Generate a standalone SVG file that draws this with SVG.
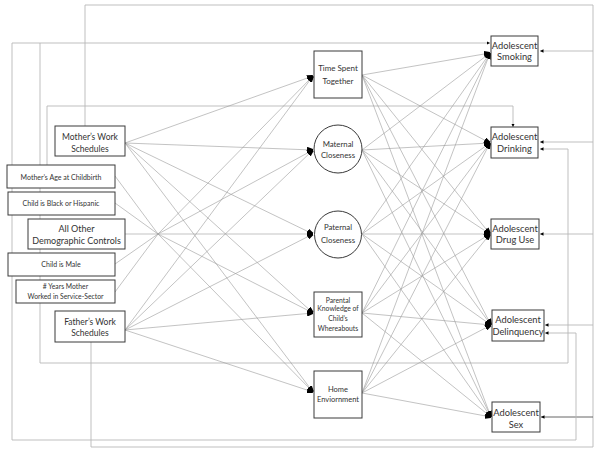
<svg xmlns="http://www.w3.org/2000/svg" width="600" height="454" viewBox="0 0 600 454">
<style>
.bg{fill:#fff}
.box{fill:#fff;stroke:#3a3a3a;stroke-width:1}
.loop{fill:none;stroke:#b8b8b8;stroke-width:0.9}
.c{fill:none;stroke:#9a9a9a;stroke-width:0.6}
.t{font-family:Lato,"Open Sans","Liberation Sans",sans-serif;fill:#333;text-anchor:middle}
</style>
<defs>
<marker id="big" viewBox="0 0 6 6" refX="6" refY="3" markerWidth="6" markerHeight="6" markerUnits="userSpaceOnUse" orient="auto">
<path d="M0,0 L6,2 L6,4 L0,6 z" fill="#000"/>
</marker>
<marker id="sm" viewBox="0 0 4 4" refX="4" refY="2" markerWidth="3.5" markerHeight="3.5" markerUnits="userSpaceOnUse" orient="auto-start-reverse">
<path d="M0,0 L4,2 L0,4 z" fill="#000"/>
</marker>
</defs>
<rect class="bg" x="0" y="0" width="600" height="454"/>
<g id="connectors">
<path class="loop" d="M85,126 V5 H593 V447 H91 V342"/>
<path class="loop" d="M593,51 H540" marker-end="url(#sm)"/>
<path class="loop" d="M593,142 H540" marker-end="url(#sm)"/>
<path class="loop" d="M593,234 H540" marker-end="url(#sm)"/>
<path class="loop" d="M593,325 H545" marker-end="url(#sm)"/>
<path d="M593,417 H541" fill="none" stroke="#555" stroke-width="0.9" marker-end="url(#sm)"/>
<path class="loop" d="M490,43 H12 V440 H576 V333 H545" marker-start="url(#sm)" marker-end="url(#sm)"/>
<path class="loop" d="M40,43 V363 H568 V149 H540" marker-end="url(#sm)"/>
<path class="loop" d="M47,165 V106 H513 V127" marker-end="url(#sm)"/>
<path class="c" d="M125,234 L158,234"/>
<path class="c" d="M115,176 L158,234"/>
<path class="c" d="M115,203 L158,234"/>
<path class="c" d="M115,264 L158,234"/>
<path class="c" d="M115,292 L158,234"/>
<path class="c" d="M125,143 L313,76" marker-end="url(#big)"/>
<path class="c" d="M125,143 L313,150" marker-end="url(#big)"/>
<path class="c" d="M125,143 L313,234" marker-end="url(#big)"/>
<path class="c" d="M125,143 L313,313" marker-end="url(#big)"/>
<path class="c" d="M125,143 L313,392" marker-end="url(#big)"/>
<path class="c" d="M158,234 L313,76" marker-end="url(#big)"/>
<path class="c" d="M158,234 L313,150" marker-end="url(#big)"/>
<path class="c" d="M158,234 L313,234" marker-end="url(#big)"/>
<path class="c" d="M158,234 L313,313" marker-end="url(#big)"/>
<path class="c" d="M158,234 L313,392" marker-end="url(#big)"/>
<path class="c" d="M125,330 L313,76" marker-end="url(#big)"/>
<path class="c" d="M125,330 L313,150" marker-end="url(#big)"/>
<path class="c" d="M125,330 L313,234" marker-end="url(#big)"/>
<path class="c" d="M125,330 L313,313" marker-end="url(#big)"/>
<path class="c" d="M125,330 L313,392" marker-end="url(#big)"/>
<path class="c" d="M362,75 L490,53" marker-end="url(#big)"/>
<path class="c" d="M362,75 L490,143" marker-end="url(#big)"/>
<path class="c" d="M362,75 L490,234" marker-end="url(#big)"/>
<path class="c" d="M362,75 L491,325" marker-end="url(#big)"/>
<path class="c" d="M362,75 L491,417" marker-end="url(#big)"/>
<path class="c" d="M362,150 L490,53" marker-end="url(#big)"/>
<path class="c" d="M362,150 L490,143" marker-end="url(#big)"/>
<path class="c" d="M362,150 L490,234" marker-end="url(#big)"/>
<path class="c" d="M362,150 L491,325" marker-end="url(#big)"/>
<path class="c" d="M362,150 L491,417" marker-end="url(#big)"/>
<path class="c" d="M362,234 L490,53" marker-end="url(#big)"/>
<path class="c" d="M362,234 L490,143" marker-end="url(#big)"/>
<path class="c" d="M362,234 L490,234" marker-end="url(#big)"/>
<path class="c" d="M362,234 L491,325" marker-end="url(#big)"/>
<path class="c" d="M362,234 L491,417" marker-end="url(#big)"/>
<path class="c" d="M362,313 L490,53" marker-end="url(#big)"/>
<path class="c" d="M362,313 L490,143" marker-end="url(#big)"/>
<path class="c" d="M362,313 L490,234" marker-end="url(#big)"/>
<path class="c" d="M362,313 L491,325" marker-end="url(#big)"/>
<path class="c" d="M362,313 L491,417" marker-end="url(#big)"/>
<path class="c" d="M362,393 L490,53" marker-end="url(#big)"/>
<path class="c" d="M362,393 L490,143" marker-end="url(#big)"/>
<path class="c" d="M362,393 L490,234" marker-end="url(#big)"/>
<path class="c" d="M362,393 L491,325" marker-end="url(#big)"/>
<path class="c" d="M362,393 L491,417" marker-end="url(#big)"/>
</g>
<g id="mother-work">
<rect class="box" x="55" y="126" width="70" height="30"/>
<text class="t" font-size="8.5"><tspan x="90" y="140">Mother’s Work</tspan><tspan x="90" y="152">Schedules</tspan></text>
</g>
<g id="mother-age">
<rect class="box" x="7" y="165" width="108" height="23"/>
<text class="t" font-size="7" x="61" y="179.5">Mother’s Age at Childbirth</text>
</g>
<g id="child-black">
<rect class="box" x="8" y="192" width="107" height="23"/>
<text class="t" font-size="7" x="61" y="206">Child is Black or Hispanic</text>
</g>
<g id="other-controls">
<rect class="box" x="28" y="219" width="97" height="30"/>
<text class="t" font-size="9"><tspan x="76.5" y="232">All Other</tspan><tspan x="76.5" y="243.5">Demographic Controls</tspan></text>
</g>
<g id="child-male">
<rect class="box" x="8" y="253" width="107" height="23"/>
<text class="t" font-size="7" x="61" y="267">Child is Male</text>
</g>
<g id="years-service">
<rect class="box" x="16" y="280" width="99" height="23"/>
<text class="t" font-size="6.8"><tspan x="65.5" y="288.5"># Years Mother</tspan><tspan x="65.5" y="298.5">Worked in Service-Sector</tspan></text>
</g>
<g id="father-work">
<rect class="box" x="55" y="311" width="70" height="31"/>
<text class="t" font-size="8.5"><tspan x="90" y="325">Father’s Work</tspan><tspan x="90" y="336">Schedules</tspan></text>
</g>
<g id="time-spent">
<rect class="box" x="314" y="51" width="48" height="47"/>
<text class="t" font-size="8"><tspan x="338" y="71">Time Spent</tspan><tspan x="338" y="84">Together</tspan></text>
</g>
<g id="maternal-closeness">
<circle class="box" cx="338" cy="149" r="24"/>
<text class="t" font-size="7.8"><tspan x="338" y="146.5">Maternal</tspan><tspan x="338" y="157.5">Closeness</tspan></text>
</g>
<g id="paternal-closeness">
<circle class="box" cx="338" cy="234.5" r="23.5"/>
<text class="t" font-size="7.8"><tspan x="338" y="229.5">Paternal</tspan><tspan x="338" y="243">Closeness</tspan></text>
</g>
<g id="parental-knowledge">
<rect class="box" x="314" y="292" width="48" height="45"/>
<text class="t" font-size="6.8"><tspan x="338" y="302.5">Parental</tspan><tspan x="338" y="310.5">Knowledge of</tspan><tspan x="338" y="320.5">Child’s</tspan><tspan x="338" y="330.5">Whereabouts</tspan></text>
</g>
<g id="home-environment">
<rect class="box" x="314" y="371" width="48" height="47"/>
<text class="t" font-size="7.5"><tspan x="338" y="391.5">Home</tspan><tspan x="338" y="401.5">Enviornment</tspan></text>
</g>
<g id="smoking">
<rect class="box" x="491" y="36" width="47" height="30"/>
<text class="t" font-size="9.3"><tspan x="514.5" y="48.5">Adolescent</tspan><tspan x="514.5" y="60">Smoking</tspan></text>
</g>
<g id="drinking">
<rect class="box" x="491" y="127" width="47" height="31"/>
<text class="t" font-size="9.3"><tspan x="514.5" y="140">Adolescent</tspan><tspan x="514.5" y="151.5">Drinking</tspan></text>
</g>
<g id="drug-use">
<rect class="box" x="491" y="219" width="48" height="30"/>
<text class="t" font-size="9.3"><tspan x="515" y="232">Adolescent</tspan><tspan x="515" y="243">Drug Use</tspan></text>
</g>
<g id="delinquency">
<rect class="box" x="492" y="310" width="52" height="31"/>
<text class="t" font-size="9.3"><tspan x="518" y="323">Adolescent</tspan><tspan x="518" y="335">Delinquency</tspan></text>
</g>
<g id="sex">
<rect class="box" x="492" y="402" width="48" height="30"/>
<text class="t" font-size="9.3"><tspan x="516" y="416">Adolescent</tspan><tspan x="516" y="428">Sex</tspan></text>
</g>
</svg>
